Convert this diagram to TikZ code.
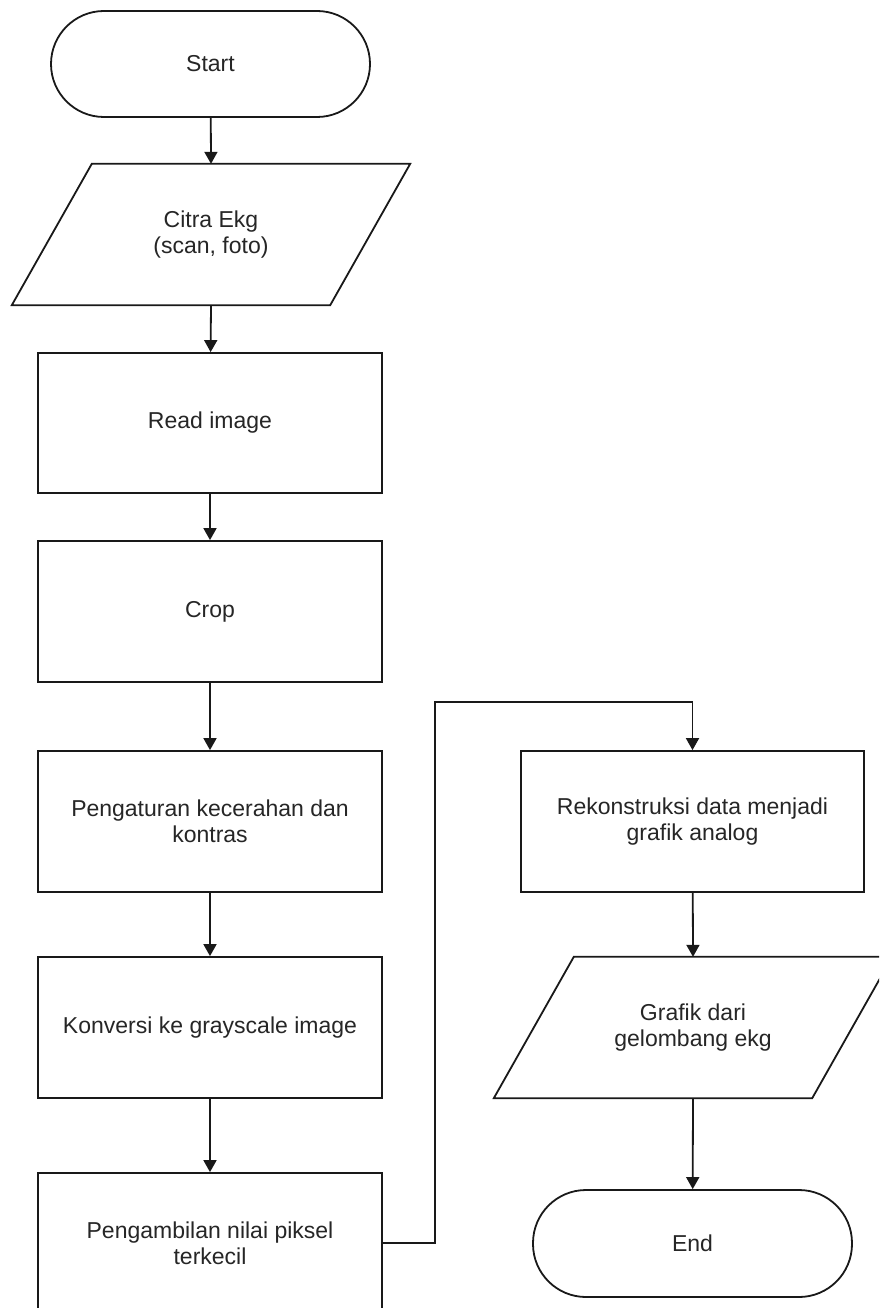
\documentclass[tikz,border=0pt]{standalone}
\usepackage{fontspec}
\setmainfont{Liberation Sans}
\usetikzlibrary{arrows.meta}
\begin{document}
\begin{tikzpicture}[x=1pt,y=-1pt,
  every node/.style={font=\fontsize{23}{26}\selectfont, text=black!85, align=center, inner sep=0pt},
  line/.style={line width=1.8pt, draw=black!90},
  arr/.style={line, -{Triangle[width=13pt,length=12pt]}},
  procbox/.style={rectangle, line, minimum width=344pt, minimum height=141pt},
  term/.style={rectangle, line, rounded corners=53pt, minimum width=319pt, minimum height=106pt},
  iobox/.style={rectangle, draw=none, minimum width=398pt, minimum height=141pt}
]
\useasboundingbox (0,0) rectangle (879,1308);
\clip (0,0) rectangle (879,1308);
\fill[white] (0,0) rectangle (879,1308);

% left column
\node[term] (start) at (210.5,64) {Start};
\node[iobox] (inp) at (211,234.5) {Citra Ekg\\(scan, foto)};
\draw[line] (inp.south west) -- ([xshift=-80pt]inp.south east) -- (inp.north east) -- ([xshift=80pt]inp.north west) -- cycle;
\node[procbox, minimum height=140pt] (read) at (210,423) {Read image};
\node[procbox] (crop) at (210,611.5) {Crop};
\node[procbox] (atur) at (210,821.5) {Pengaturan kecerahan dan\\kontras};
\node[procbox] (konv) at (210,1027.5) {Konversi ke grayscale image};
\node[procbox, minimum height=140pt] (ambil) at (210,1243) {Pengambilan nilai piksel\\terkecil};

% right column
\node[procbox, minimum width=343pt] (rek) at (692.5,821.5) {Rekonstruksi data menjadi\\grafik analog};
\node[iobox] (out) at (693,1027.5) {Grafik dari\\gelombang ekg};
\draw[line] (out.south west) -- ([xshift=-80pt]out.south east) -- (out.north east) -- ([xshift=80pt]out.north west) -- cycle;
\node[term, minimum height=107pt] (end) at (692.5,1243.5) {End};

% connectors
\draw[arr] (start) -- (inp.north);
\draw[arr] (inp.south) -- (read);
\draw[arr] (read) -- (crop);
\draw[arr] (crop) -- (atur);
\draw[arr] (atur) -- (konv);
\draw[arr] (konv) -- (ambil);
\draw[arr] (ambil.east) -- ++(52,0) |- ([yshift=48pt]rek.north) -- (rek.north);
\draw[arr] (rek) -- (out.north);
\draw[arr] (out.south) -- (end);
\end{tikzpicture}
\end{document}
